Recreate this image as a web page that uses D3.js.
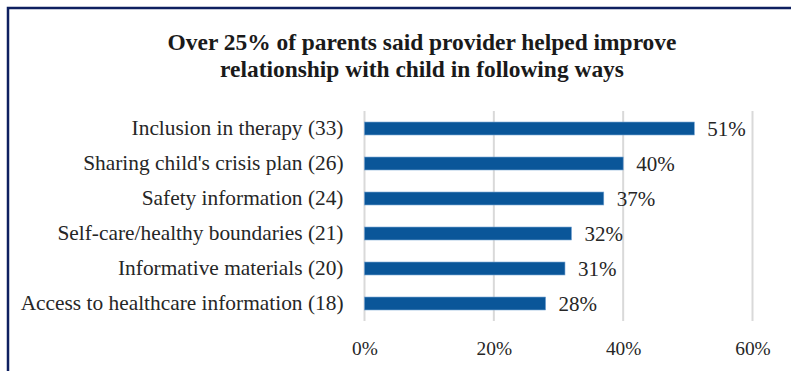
<!DOCTYPE html>
<meta charset="utf-8">
<head>
  <title>provider-helped</title>
</head>
<style>
  body { margin: 0; background: #fff; }
  .grid line { stroke: #d9d9d9; stroke-width: 2; }
  .bar { fill: #0a5699; stroke: #6f9fd0; stroke-width: 0.6; }
</style>
<body>
  <svg width="791" height="371"></svg>
  <script src="https://cdnjs.cloudflare.com/ajax/libs/d3/7.8.5/d3.min.js"></script>
  <script>
    var categories = [
      "Inclusion in therapy (33)",
      "Sharing child's crisis plan (26)",
      "Safety information (24)",
      "Self-care/healthy boundaries (21)",
      "Informative materials (20)",
      "Access to healthcare information (18)"
    ]
    var values = [51, 40, 37, 32, 31, 28]
    var tickValues = [0, 20, 40, 60]
    var titleLines = [
      "Over 25% of parents said provider helped improve",
      "relationship with child in following ways"
    ]

    var FONT = '"Liberation Serif", "Times New Roman", serif'
    var svg = d3.select('svg')

    // scale a text selection so its widest item hits the width
    function fit(sel, target) {
      var w = d3.max(sel.nodes(), function(n) { return n.getComputedTextLength() })
      var fs = parseFloat(sel.style('font-size'))
      sel.style('font-size', (fs * target / w).toFixed(2) + 'px')
    }

    // frame (only top and left edges show in the crop)
    svg.append('path')
      .attr('d', 'M8,371 V8 H791')
      .attr('fill', 'none')
      .attr('stroke', '#0e2060')
      .attr('stroke-width', 2.5)

    var title = svg.selectAll('.title')
      .data(titleLines)
      .enter()
      .append('text')
      .attr('class', 'title')
      .attr('x', 422)
      .attr('y', function(d, i) { return 50 + i * 27 })
      .attr('text-anchor', 'middle')
      .style('font-family', FONT)
      .style('font-weight', 'bold')
      .style('font-size', '20px')
      .attr('fill', '#1a1a1a')
      .text(function(d) { return d })
    fit(title, 509)

    var x = d3.scaleLinear().domain([0, 60]).range([364.5, 752.5])
    var y = d3.scaleBand().domain(categories).range([111, 321])
      .paddingInner(0.63).paddingOuter(0.315)

    svg.append('g')
      .attr('class', 'grid')
      .selectAll('line')
      .data(tickValues)
      .enter()
      .append('line')
      .attr('x1', function(d) { return x(d) })
      .attr('x2', function(d) { return x(d) })
      .attr('y1', 111)
      .attr('y2', 321)

    svg.selectAll('.bar')
      .data(values)
      .enter()
      .append('rect')
      .attr('class', 'bar')
      .attr('x', x(0))
      .attr('y', function(d, i) { return y(categories[i]) })
      .attr('width', function(d) { return x(d) - x(0) })
      .attr('height', y.bandwidth())

    var vals = svg.selectAll('.val')
      .data(values)
      .enter()
      .append('text')
      .attr('class', 'val')
      .attr('x', function(d) { return x(d) + 13 })
      .attr('y', function(d, i) { return y(categories[i]) + y.bandwidth() / 2 })
      .attr('dy', '0.35em')
      .style('font-family', FONT)
      .style('font-size', '18px')
      .attr('fill', '#262626')
      .text(function(d) { return d + '%' })
    fit(vals, 38.5)

    var yAxis = svg.append('g')
      .attr('transform', 'translate(' + (x(0) - 21) + ',0)')
      .call(d3.axisLeft(y).tickSize(0).tickPadding(0))
    yAxis.select('.domain').remove()
    var ylab = yAxis.selectAll('text')
      .style('font-family', FONT)
      .style('font-size', '18px')
      .attr('fill', '#262626')
    fit(ylab, 323)

    var xAxis = svg.append('g')
      .attr('transform', 'translate(0,341)')
      .call(d3.axisBottom(x).tickValues(tickValues).tickSize(0).tickPadding(0)
        .tickFormat(function(d) { return d + '%' }))
    xAxis.select('.domain').remove()
    var xlab = xAxis.selectAll('text')
      .style('font-family', FONT)
      .style('font-size', '17px')
      .attr('fill', '#262626')
    fit(xlab, 35.5)
  </script>
</body>
